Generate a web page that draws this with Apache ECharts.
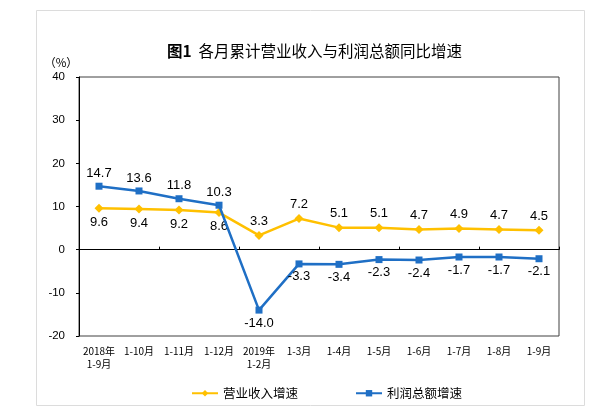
<!DOCTYPE html>
<html>
<head>
<meta charset="utf-8">
<script src="https://cdn.jsdelivr.net/npm/echarts@6/dist/echarts.min.js"></script>
<style>html,body{margin:0;padding:0;background:#fff;}#c{width:600px;height:408px;}</style>
</head>
<body>
<div id="c"></div>
<script>
var categories = ['2018年\n1-9月','1-10月','1-11月','1-12月','2019年\n1-2月','1-3月','1-4月','1-5月','1-6月','1-7月','1-8月','1-9月'];
var revenueGrowth = [9.6, 9.4, 9.2, 8.6, 3.3, 7.2, 5.1, 5.1, 4.7, 4.9, 4.7, 4.5];
var profitGrowth = [14.7, 13.6, 11.8, 10.3, -14.0, -3.3, -3.4, -2.3, -2.4, -1.7, -1.7, -2.1];
var yTicks = {min: -20, max: 40, interval: 10};
var seriesNames = ['营业收入增速', '利润总额增速'];

function buildData(vals, other) {
  return vals.map(function (v, i) {
    return { value: v, label: { position: v >= other[i] ? 'top' : 'bottom' } };
  });
}

var chart = echarts.init(document.getElementById('c'), null, {renderer: 'canvas'});
var labelStyle = {
  show: true, distance: 3, color: '#000', fontSize: 13,
  fontFamily: 'Liberation Sans, Arial, sans-serif',
  formatter: function (p) { return p.value.toFixed(1); }
};
chart.setOption({
  animation: false,
  backgroundColor: '#fff',
  title: {
    text: '{b|图1}  各月累计营业收入与利润总额同比增速',
    left: 162, top: 38,
    textStyle: {
      fontSize: 15.5, fontWeight: 'normal', color: '#000',
      fontFamily: 'Noto Sans CJK SC',
      rich: { b: { fontSize: 15.5, fontWeight: 'bold', color: '#000', fontFamily: 'Noto Sans CJK SC' } }
    }
  },
  graphic: [
    { type: 'rect', shape: {x: 36.5, y: 10.5, width: 548, height: 395}, style: {fill: 'none', stroke: '#dcdcdc', lineWidth: 1}, silent: true },
    { type: 'text', x: 61, y: 63, style: { text: '（%）', fontSize: 11.5, fontFamily: 'Noto Sans CJK SC', fill: '#000', align: 'center', verticalAlign: 'middle' } }
  ],
  grid: { left: 79, right: 41, top: 77, bottom: 72, show: true, borderColor: '#404040', borderWidth: 1, backgroundColor: 'transparent' },
  legend: {
    data: seriesNames, left: 186, top: 382, itemWidth: 26, itemHeight: 8, itemGap: 57,
    textStyle: { fontSize: 12.5, color: '#000', fontFamily: 'Noto Sans CJK SC' }
  },
  xAxis: [
    {
      type: 'category', data: categories, boundaryGap: true,
      axisLine: { onZero: true, lineStyle: { color: '#000', width: 1 } },
      axisTick: { show: true, inside: true, length: 3, lineStyle: { color: '#000' } },
      axisLabel: { show: false }, splitLine: { show: false }
    },
    {
      type: 'category', data: categories, position: 'bottom', boundaryGap: true,
      axisLine: { show: false, onZero: false }, axisTick: { show: false },
      axisLabel: { show: true, interval: 0, margin: 9, fontSize: 10, lineHeight: 13, color: '#000', fontFamily: 'Noto Sans CJK SC' },
      splitLine: { show: false }
    }
  ],
  yAxis: {
    type: 'value', min: yTicks.min, max: yTicks.max, interval: yTicks.interval,
    axisLine: { show: true, lineStyle: { color: '#000' } },
    axisTick: { show: true, length: 3, lineStyle: { color: '#000' } },
    axisLabel: { margin: 14, fontSize: 11.5, color: '#000', fontFamily: 'Liberation Sans, Arial, sans-serif' },
    splitLine: { show: false }
  },
  series: [
    {
      name: seriesNames[0], type: 'line', xAxisIndex: 0,
      data: buildData(revenueGrowth, profitGrowth),
      symbol: 'diamond', symbolSize: 9,
      lineStyle: { color: '#FFC000', width: 2.5 },
      itemStyle: { color: '#FFC000' },
      label: labelStyle, z: 3
    },
    {
      name: seriesNames[1], type: 'line', xAxisIndex: 0,
      data: buildData(profitGrowth, revenueGrowth),
      symbol: 'rect', symbolSize: 7,
      lineStyle: { color: '#1F6FC5', width: 2.5 },
      itemStyle: { color: '#1F6FC5' },
      label: labelStyle, z: 4
    }
  ]
});
</script>
</body>
</html>
